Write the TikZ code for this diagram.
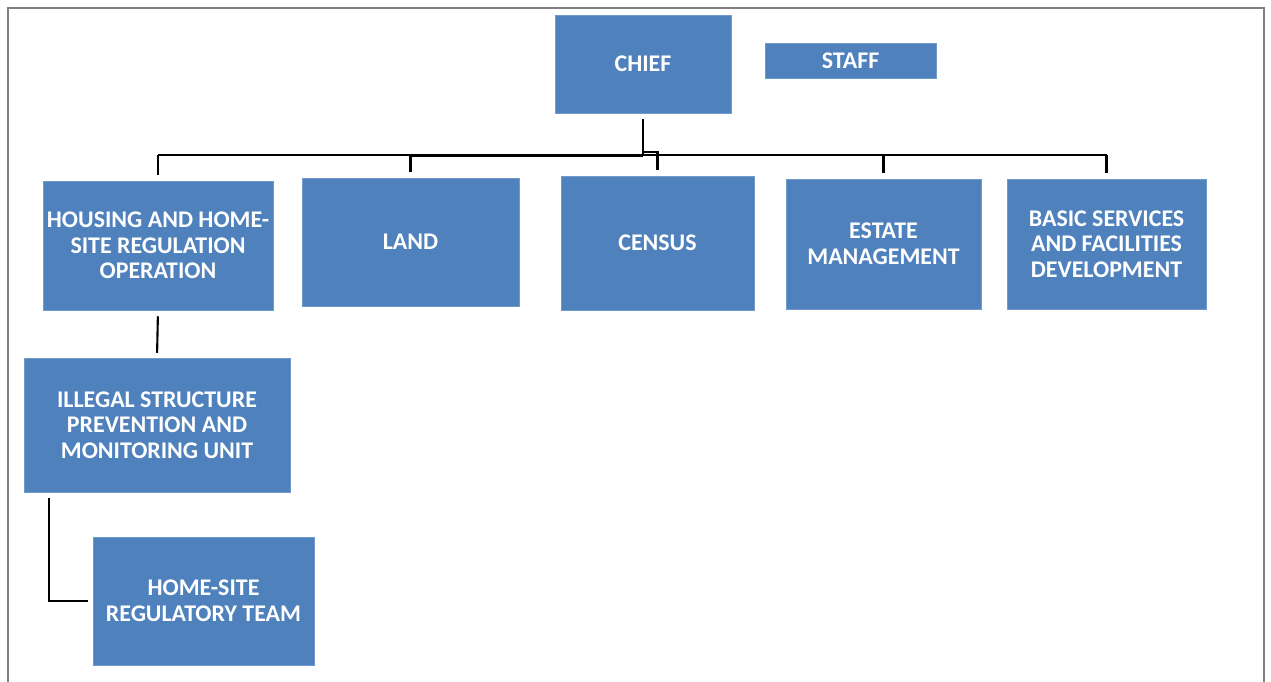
\documentclass[tikz,border=0pt]{standalone}
\usepackage{fontspec}
\setmainfont{Carlito}
\usetikzlibrary{positioning,calc}
\definecolor{unitblue}{RGB}{79,129,189}
\definecolor{framegray}{RGB}{128,128,128}

\tikzset{
  unitbox/.style={fill=unitblue, draw=unitblue!80!white, line width=0.3pt, inner sep=0pt,
    align=center, text=white, font=\fontsize{13.6}{14.6}\selectfont\bfseries},
  conn/.style={black, line width=1.2pt},
}

\begin{document}
\begin{tikzpicture}[x=0.02cm, y=-0.02cm]
    \useasboundingbox (0,0) rectangle (1271,681);
    % Frame (open at the bottom)
    \draw[framegray, line width=1.2pt] (8,700) -- (8,8) -- (1264,8) -- (1264,700);
    % Top level
    \node[unitbox, minimum width=3.52cm, minimum height=1.96cm] (chief) at (643,64) {CHIEF};
    \node[unitbox, minimum width=3.42cm, minimum height=0.70cm] (staff) at (850.5,60.5) {STAFF};
    % Divisions
    \node[unitbox, minimum width=4.60cm, minimum height=2.58cm] (housing) at (158,245.5) {HOUSING AND HOME-\\SITE REGULATION\\OPERATION};
    \node[unitbox, minimum width=4.34cm, minimum height=2.56cm] (land) at (410.5,242) {LAND};
    \node[unitbox, minimum width=3.86cm, minimum height=2.68cm] (census) at (657.5,243) {CENSUS};
    \node[unitbox, minimum width=3.90cm, minimum height=2.60cm] (estate) at (883.5,244) {ESTATE\\MANAGEMENT};
    \node[unitbox, minimum width=3.98cm, minimum height=2.60cm] (basic) at (1106.5,244) {BASIC SERVICES\\AND FACILITIES\\DEVELOPMENT};
    % Units below housing
    \node[unitbox, minimum width=5.32cm, minimum height=2.68cm] (illegal) at (157,425) {ILLEGAL STRUCTURE\\PREVENTION AND\\MONITORING UNIT};
    \node[unitbox, minimum width=4.42cm, minimum height=2.56cm] (team) at (203.5,601) {HOME-SITE\\REGULATORY TEAM};
    % Bus
    \coordinate (bus) at (643,155);
    \draw[conn, shorten <=0.12cm] (chief.south) -- (bus);
    \draw[conn] (housing.north |- bus) -- (basic.north |- bus);
    \draw[black, line width=1.7pt] (land.north |- bus) -- (bus);
    \foreach \unit in {housing,land,estate,basic} {
        \draw[conn, shorten >=0.12cm] (\unit.north |- bus) -- (\unit.north);
    }
    \draw[conn, shorten >=0.12cm] ($(bus)+(0,-3)$) -| (census.north);
    % Lower branches
    \draw[conn, shorten <=0.12cm, shorten >=0.10cm] (housing.south) -- (illegal.north);
    \draw[conn, shorten >=0.10cm] ($(illegal.south west)+(25,6)$) |- (team.west);
\end{tikzpicture}
\end{document}
